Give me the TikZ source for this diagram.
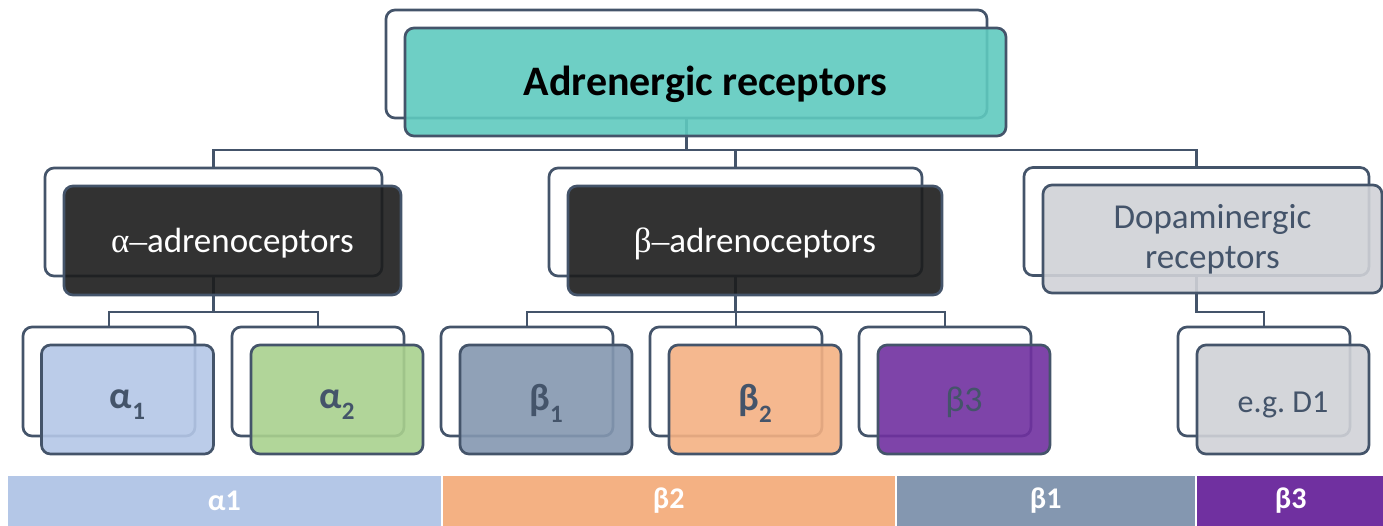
\documentclass[tikz,border=0pt]{standalone}
\usepackage{fontspec}
\setmainfont{Carlito}
\newfontfamily\grkserif{Liberation Serif}

\definecolor{slate}{HTML}{44546A}
\definecolor{tealfill}{HTML}{5FCABF}
\definecolor{darkfill}{HTML}{1C1C1C}
\definecolor{greyfill}{HTML}{D0D2D7}
\definecolor{alphaone}{HTML}{B4C7E7}
\definecolor{alphatwo}{HTML}{A9D18E}
\definecolor{betaone}{HTML}{8497B0}
\definecolor{betatwo}{HTML}{F4B183}
\definecolor{betathree}{HTML}{7030A0}

\tikzset{
  outlinebox/.style={draw=slate, line width=2.7pt, fill=white,
    rounded corners=9pt, inner sep=0pt},
  facebox/.style={draw=slate, line width=2.7pt, fill opacity=0.9,
    text opacity=1, rounded corners=9pt, inner sep=0pt, align=center},
  bigsize/.style={minimum width=#1, minimum height=108pt},
  smallsize/.style={minimum width=172pt, minimum height=109pt},
  link/.style={draw=slate, line width=2.7pt},
  barseg/.style={draw=white, line width=1.5pt, inner sep=0pt,
    minimum height=52pt, anchor=north west, text=white,
    font=\fontsize{30}{32}\selectfont\bfseries},
  lvltwo/.style={font=\fontsize{35}{40}\selectfont},
  lvlthree/.style={font=\fontsize{38}{40}\selectfont\bfseries, text=slate},
}
% subscript digit of a receptor subtype
\newcommand{\subidx}[1]{\raisebox{-0.3em}{\fontsize{25}{25}\selectfont #1}}
% lower a label without changing its box
\newcommand{\lowered}[2]{\raisebox{-#1}[\height][\depth]{#2}}

\begin{document}
\begin{tikzpicture}[x=1pt, y=-1pt]
\useasboundingbox (0,0) rectangle (1383,525);
\clip (0,0) rectangle (1383,525);

% outline (back) shapes
\node[outlinebox, bigsize=601pt] (topb) at (686.5,64) {};
\node[outlinebox, bigsize=337pt] (alb) at (213.5,222) {};
\node[outlinebox, bigsize=373pt] (beb) at (735.5,222) {};
\node[outlinebox, bigsize=345pt] (dob) at (1196.5,221.5) {};
\node[outlinebox, smallsize] (a1b) at (109,381.5) {};
\node[outlinebox, smallsize] (a2b) at (318,381.5) {};
\node[outlinebox, smallsize] (b1b) at (527,381.5) {};
\node[outlinebox, smallsize] (b2b) at (736,381.5) {};
\node[outlinebox, smallsize] (b3b) at (945,381.5) {};
\node[outlinebox, smallsize] (d1b) at (1264,381.5) {};

% bus levels of the tree
\coordinate (busA) at (0,150);
\coordinate (busB) at (0,312);

% connectors
\draw[link] (topb.south) |- (busA -| alb.north) -- (alb.north);
\draw[link] (topb.south) |- (busA -| dob.north) -- (dob.north);
\draw[link] (busA -| beb.north) -- (beb.north);
\draw[link] (alb.south) |- (busB -| a1b.north) -- (a1b.north);
\draw[link] (alb.south) |- (busB -| a2b.north) -- (a2b.north);
\draw[link] (beb.south) |- (busB -| b1b.north) -- (b1b.north);
\draw[link] (beb.south) |- (busB -| b3b.north) -- (b3b.north);
\draw[link] (busB -| b2b.north) -- (b2b.north);
\draw[link] (dob.south) |- (busB -| d1b.north) -- (d1b.north);

% front shapes with labels
\node[facebox, bigsize=601pt, fill=tealfill,
  font=\fontsize{42}{48}\selectfont\bfseries] (top) at (705.5,82)
  {\lowered{2pt}{Adrenergic receptors}};
\node[facebox, bigsize=337pt, minimum height=109pt, fill=darkfill,
  text=white, lvltwo] (al) at (232.5,240.5)
  {\lowered{3pt}{{\grkserif α–}adrenoceptors}};
\node[facebox, bigsize=374pt, minimum height=109pt, fill=darkfill,
  text=white, lvltwo] (be) at (755,240.5)
  {\lowered{3pt}{{\grkserif β–}adrenoceptors}};
\node[facebox, bigsize=339pt, fill=greyfill, text=slate, lvltwo]
  (dop) at (1212.5,239) {Dopaminergic\\receptors};

\node[facebox, smallsize, fill=alphaone, lvlthree] (a1) at (127.5,399.5)
  {\lowered{5pt}{α\subidx{1}}};
\node[facebox, smallsize, fill=alphatwo, lvlthree] (a2) at (337,399.5)
  {\lowered{5pt}{α\subidx{2}}};
\node[facebox, smallsize, fill=betaone, lvlthree] (b1) at (546,399.5)
  {\lowered{4pt}{β\subidx{1}}};
\node[facebox, smallsize, fill=betatwo, lvlthree] (b2) at (755,399.5)
  {\lowered{4pt}{β\subidx{2}}};
\node[facebox, smallsize, fill=betathree, text=slate,
  font=\fontsize{36}{40}\selectfont] (b3) at (964,399.5)
  {\lowered{3pt}{β3}};
\node[facebox, smallsize, fill=greyfill, text=slate,
  font=\fontsize{32}{36}\selectfont] (d1) at (1283,399.5)
  {\lowered{5pt}{e.g.\ D1}};

% colour key bar
\node[barseg, fill=alphaone, minimum width=435pt] (k1) at (6,474) {α1};
\node[barseg, fill=betatwo, minimum width=454pt] (k2) at (441,474) {β2};
\node[barseg, fill=betaone, minimum width=300pt] (k3) at (895,474) {β1};
\node[barseg, fill=betathree, minimum width=190pt] (k4) at (1195,474) {β3};
\end{tikzpicture}
\end{document}
